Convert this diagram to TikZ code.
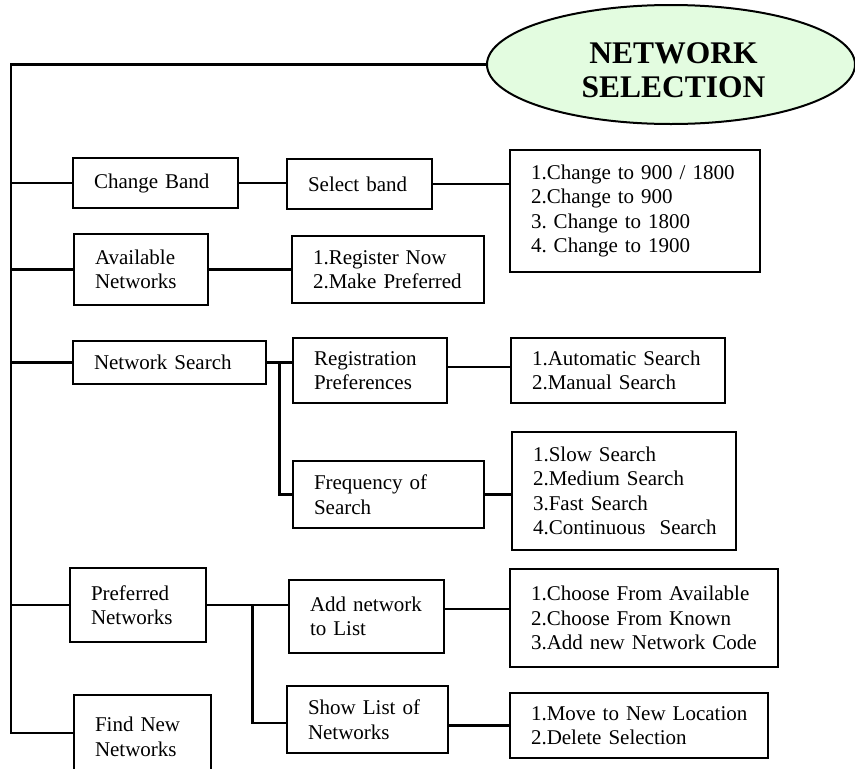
\documentclass[tikz,border=0pt]{standalone}
\usepackage{fontspec}
\setmainfont{Liberation Serif}
\usetikzlibrary{shapes.geometric}

\definecolor{titlefill}{RGB}{227,252,224}

% box text: no hyphenation, lines may run slightly past the text width
\newcommand\menufont{\fontsize{21}{24.5}\selectfont
  \hyphenpenalty=10000\relax\exhyphenpenalty=10000\relax
  \hbadness=10000\relax\hfuzz=20pt\relax}

\tikzset{
  wire/.style={line width=2.5pt},
  menubox/.style={draw, line width=2.5pt, inner xsep=21pt, inner ysep=2pt,
    align=left, font=\menufont},
  titleshape/.style={draw, ellipse, line width=2pt, fill=titlefill,
    minimum width=368pt, minimum height=119pt, inner sep=0pt},
  titletext/.style={align=center, inner sep=0pt,
    font=\bfseries\fontsize{31.5}{34}\selectfont}
}

\begin{document}
\begin{tikzpicture}[x=1pt, y=-1pt]
\useasboundingbox (0,0) rectangle (855,769);

% root
\node[titleshape] (title) at (671,64.5) {};
\node[titletext] (titlelabel) at (673.5,70.5) {NETWORK\\SELECTION};

% first level
\node[menubox, text width=123pt, minimum height=50pt] (cb) at (155.5,183) {Change~Band};
\node[menubox, text width=92pt, minimum height=71pt] (avail) at (141,269.5) {Available\\Networks};
\node[menubox, text width=151pt, minimum height=43pt] (ns) at (169.5,362.5) {Network~Search};
\node[menubox, text width=94pt, minimum height=74pt] (pref) at (138,605) {Preferred\\Networks};
\node[menubox, text width=95pt, minimum height=84pt] (findnew) at (142.5,737) {Find~New\\Networks};

% second level
\node[menubox, text width=103pt, minimum height=50pt] (sb) at (359.5,184) {Select~band};
\node[menubox, text width=150pt, minimum height=67pt] (reg) at (388,269.5) {1.Register~Now\\2.Make~Preferred};
\node[menubox, text width=112pt, minimum height=65pt] (rp) at (370,370.5) {Registration\\Preferences};
\node[menubox, text width=149pt, minimum height=67pt] (fq) at (388.5,494.5) {Frequency~of\\Search};
\node[menubox, text width=113pt, minimum height=73pt] (add) at (366.5,616.5) {Add~network\\to~List};
\node[menubox, text width=119pt, minimum height=67pt] (show) at (367.5,719.5) {Show~List~of\\Networks};

% option lists
\node[menubox, text width=208pt, minimum height=122pt] (bandlist) at (635,211)
  {1.Change~to~900~/~1800\\2.Change~to~900\\3.~Change~to~1800\\4.~Change~to~1900};
\node[menubox, text width=172pt, minimum height=65pt] (auto) at (618,370.5)
  {1.Automatic~Search\\2.Manual~Search};
\node[menubox, text width=182pt, minimum height=118pt] (slow) at (624,491)
  {1.Slow~Search\\2.Medium~Search\\3.Fast~Search\\4.Continuous~~Search};
\node[menubox, text width=226pt, minimum height=98pt] (choose) at (644,618)
  {1.Choose~From~Available\\2.Choose~From~Known\\3.Add~new~Network~Code};
\node[menubox, text width=216pt, minimum height=65pt] (move) at (639,725.5)
  {\mbox{1.Move to New Location}\\2.Delete~Selection};

% spine from the root down the left side
\coordinate (spine) at (11,0);
\coordinate (fnjoin) at ([yshift=4pt]findnew.west);
\draw[wire] (title.west) -| (spine |- fnjoin) -- (fnjoin);
\draw[wire] (spine |- cb.west) -- (cb.west);
\draw[wire] (spine |- avail.west) -- (avail.west);
\draw[wire] (spine |- ns.west) -- (ns.west);
\draw[wire] (spine |- pref.west) -- (pref.west);

% change band
\draw[wire] (cb.east) -- (cb.east -| sb.west);
\draw[wire] (sb.east) -- (sb.east -| bandlist.west);

% available networks
\draw[wire] (avail.east) -- (avail.east -| reg.west);

% network search
\coordinate (nsj) at ([xshift=12pt]ns.east);
\draw[wire] (ns.east) -- (ns.east -| rp.west);
\draw[wire] (nsj) |- (fq.west);
\coordinate (rpout) at ([yshift=3.5pt]rp.east);
\draw[wire] (rpout) -- (rpout -| auto.west);
\draw[wire] (fq.east) -- (fq.east -| slow.west);

% preferred networks
\coordinate (prj) at ([xshift=45pt]pref.east);
\coordinate (showin) at ([yshift=-3.5pt]show.west);
\draw[wire] (pref.east) -- (pref.east -| add.west);
\draw[wire] (prj) |- (showin);
\coordinate (addout) at ([yshift=7.5pt]add.east);
\draw[wire] (addout) -- (addout -| choose.west);
\draw[wire] (move.west -| show.east) -- (move.west);
\end{tikzpicture}
\end{document}
